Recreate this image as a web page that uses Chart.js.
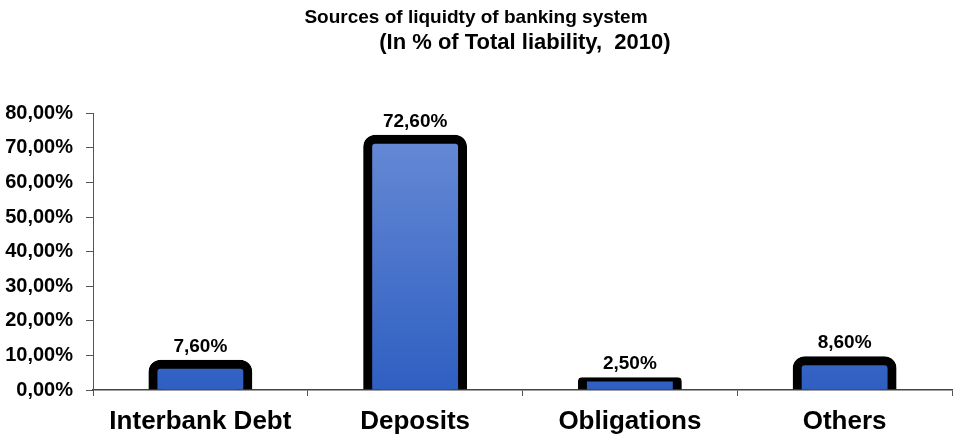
<!DOCTYPE html>
<html>
<head>
<meta charset="utf-8">
<script src="https://cdn.jsdelivr.net/npm/chart.js@4.4.0/dist/chart.umd.min.js"></script>
<style>
    html, body { margin: 0; padding: 0; background: #fff; }
    #wrap { width: 960px; height: 435px; }
</style>
</head>
<body>
<div id="wrap"><canvas id="myChart" width="960" height="435"></canvas></div>
<script>
// data
const categories = ['Interbank Debt', 'Deposits', 'Obligations', 'Others'];
const shares = [7.6, 72.6, 2.5, 8.6];
const yTicks = [0, 10, 20, 30, 40, 50, 60, 70, 80];
const titleText = 'Sources of liquidty of banking system';
const subtitleText = '                (In % of Total liability,  2010)';

const fmt = v => v.toFixed(2).replace('.', ',') + '%';
const FONT = '"Liberation Sans", Arial, sans-serif';

// blue gradient for the bars, light at top
const barFill = (context) => {
    const chart = context.chart;
    const area = chart.chartArea;
    if (!area) return '#4a74cc';
    const g = chart.ctx.createLinearGradient(0, area.top, 0, area.bottom);
    g.addColorStop(0, '#6a8dd6');
    g.addColorStop(1, '#2f5fc2');
    return g;
};

// value labels above each bar
const valueLabels = {
    id: 'valueLabels',
    afterDatasetsDraw(chart) {
        const ctx = chart.ctx;
        const meta = chart.getDatasetMeta(0);
        ctx.save();
        ctx.font = 'bold 19px ' + FONT;
        ctx.fillStyle = '#000';
        ctx.textAlign = 'center';
        ctx.textBaseline = 'alphabetic';
        meta.data.forEach((bar, i) => {
            ctx.fillText(fmt(shares[i]), bar.x, bar.y - 12);
        });
        ctx.restore();
    }
};

var ctx = document.getElementById('myChart').getContext('2d');
new Chart(ctx, {
    type: 'bar',
    data: {
        labels: categories,
        datasets: [{
            data: shares,
            backgroundColor: barFill,
            borderColor: '#000',
            borderWidth: 9,
            borderRadius: { topLeft: 12, topRight: 12, bottomLeft: 0, bottomRight: 0 },
            borderSkipped: 'bottom',
            inflateAmount: 4,
            clip: { left: 20, top: 40, right: 20, bottom: 0 },
            categoryPercentage: 0.5,
            barPercentage: 0.893
        }]
    },
    options: {
        responsive: false,
        animation: false,
        layout: { padding: { left: 0, right: 8, top: 0, bottom: 0 } },
        plugins: {
            legend: { display: false },
            tooltip: { enabled: false },
            title: {
                display: true,
                text: titleText,
                color: '#000',
                font: { family: FONT, size: 19, weight: 'bold', lineHeight: 1.2 },
                padding: { top: 6, bottom: 0 }
            },
            subtitle: {
                display: true,
                text: subtitleText,
                color: '#000',
                font: { family: FONT, size: 22, weight: 'bold', lineHeight: 1.2 },
                padding: { top: 1, bottom: 57 }
            }
        },
        scales: {
            x: {
                afterFit: s => { s.height = 45; },
                grid: { display: true, drawOnChartArea: false, offset: true, tickLength: 6, color: '#555' },
                border: { color: '#444', width: 1.5 },
                ticks: {
                    color: '#000',
                    padding: 10,
                    font: { family: FONT, size: 26, weight: 'bold' }
                }
            },
            y: {
                min: 0,
                max: 80,
                afterFit: s => { s.width = 93; },
                afterBuildTicks: s => { s.ticks = yTicks.map(v => ({ value: v })); },
                grid: { display: true, drawOnChartArea: false, tickLength: 7, color: '#555' },
                border: { color: '#555', width: 1 },
                ticks: {
                    color: '#000',
                    padding: 13,
                    callback: v => fmt(v),
                    font: { family: FONT, size: 20, weight: 'bold' }
                }
            }
        }
    },
    plugins: [valueLabels]
});
</script>
</body>
</html>
